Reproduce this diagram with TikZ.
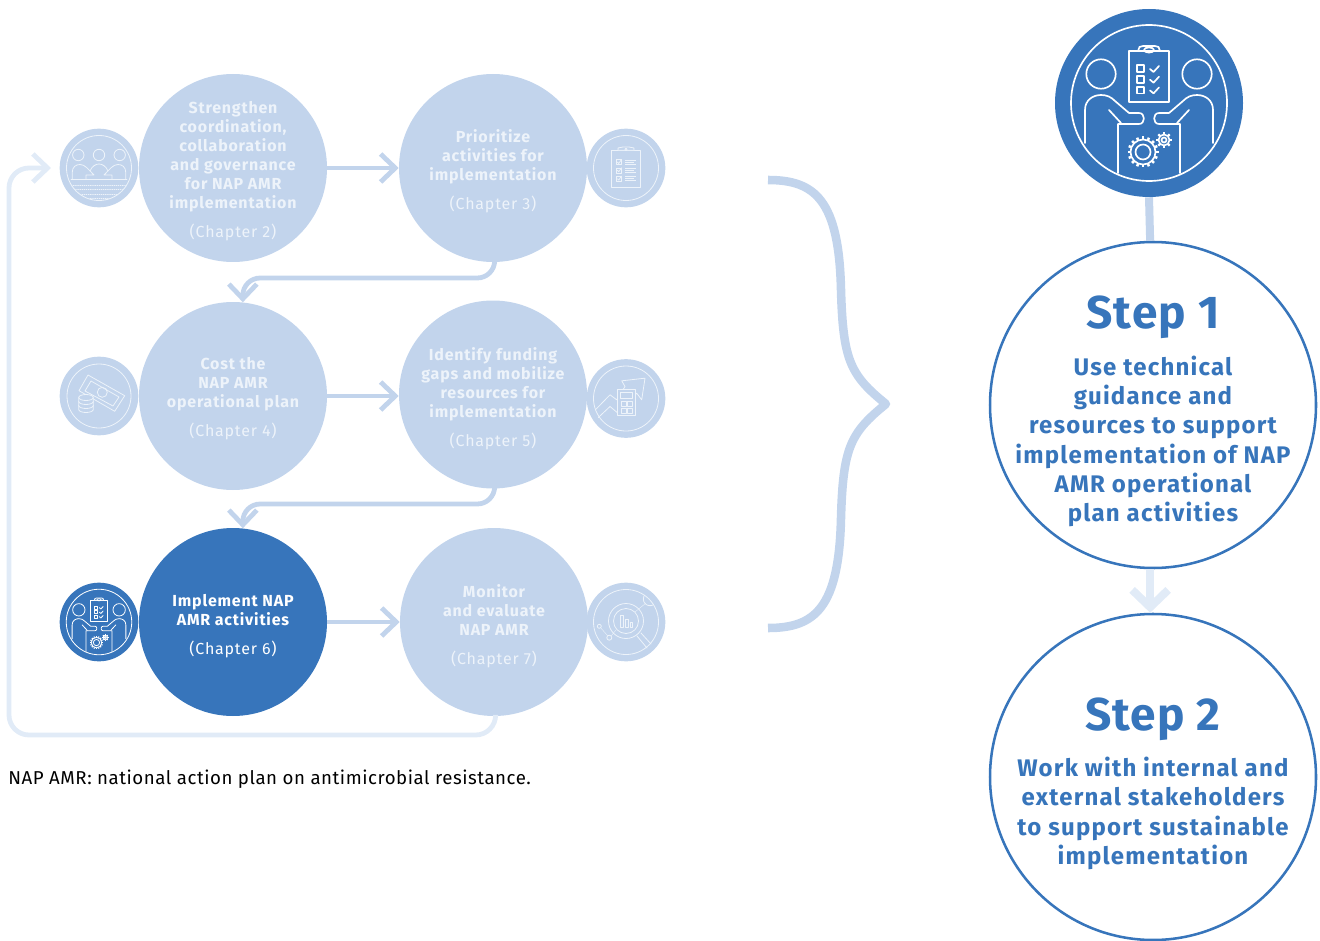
\documentclass[tikz,border=0pt]{standalone}
\usepackage{fontspec}
\setmainfont{Fira Sans}[LetterSpace=2.9]
\newfontfamily\flowfont{Fira Sans}[LetterSpace=5]
\newfontfamily\bodyfont{Fira Sans}[LetterSpace=5]
\newfontfamily\ttlfont{Fira Sans}[LetterSpace=2.5]
\usetikzlibrary{arrows.meta,calc}
\definecolor{dk}{HTML}{3775BB}
\definecolor{lt}{HTML}{C2D4EC}
\definecolor{ft}{HTML}{E1EBF7}
\definecolor{tx}{HTML}{EDF3FA}
\tikzset{
  flowc/.style={circle,fill=lt,minimum size=141pt,inner sep=0pt},
  flowd/.style={flowc,fill=dk},
  flowtx/.style={text=tx,align=center,inner sep=0pt,font=\fontsize{12}{14.25}\selectfont\flowfont\bfseries},
  iconc/.style={circle,fill=lt,minimum size=59pt,inner sep=0pt},
  icond/.style={iconc,fill=dk},
  bigc/.style={circle,draw=dk,fill=white,line width=1.9pt,minimum size=244.5pt,inner sep=0pt},
  stepttl/.style={text=dk,font=\fontsize{34.5}{40}\selectfont\ttlfont\bfseries},
  stepbody/.style={text=dk,align=center,font=\fontsize{18}{22}\selectfont\bodyfont\bfseries},
  conn/.style={line width=3.6pt,draw=lt,-{Straight Barb[length=11pt,width=21pt]}},
  connf/.style={conn,draw=ft,rounded corners=15pt},
  ic/.style={draw=tx,line width=.6pt,line cap=round,line join=round},
}
\newcommand{\chaptxt}[1]{\\[7.5pt]{\normalfont\flowfont(Chapter #1)}}
\newcommand{\meeticon}[6]{% x y scale linewidth fill stroke
\begin{scope}[shift={(#1,#2)},scale=#3]
 \begin{scope}[draw=#6,line width=#4,line cap=round,line join=round]
 \draw (0,0) circle (78);
 \foreach \s in {1,-1}{
  \begin{scope}[xscale=\s]
  \draw (48,-29) circle (14.7);
  \draw (64,40) -- (64,7) .. controls (64,-3) and (56,-8) .. (48,-8) .. controls (42,-8) and (38,-6) .. (34,-2) -- (20,10) -- (10,10) .. controls (3.5,10) and (3.5,21) .. (10,21) -- (31,21) -- (31,70);
  \draw (40,7) -- (28,20);
  \end{scope}
 }
 \draw (-20,-52) rectangle (20,-1);
 \draw[fill=#5] (-11,-52) -- (-9.5,-56) -- (-6,-57) -- (6,-57) -- (9.5,-56) -- (11,-52) -- cycle;
 \draw (0,-53) ellipse (5 and 2.6);
 \foreach \yy in {-37.7,-27,-16.3}{
  \draw (-11.7,\yy) rectangle (-4.7,\yy+6.7);
  \draw (1,\yy+3.7) -- (4.5,\yy+6.7) -- (10,\yy+.7);
 }
 \draw (-6,49) circle (12.5) (-6,49) circle (7.5);
 \foreach \a in {0,22.5,...,337.5}{\draw[line width=1.5*#4,line cap=butt] ($(-6,49)+(\a:12.5)$) -- ($(-6,49)+(\a:15.5)$);}
 \draw (15,37) circle (5.5) (15,37) circle (2.5);
 \foreach \a in {0,45,...,315}{\draw[line width=1.4*#4,line cap=butt] ($(15,37)+(\a:5.5)$) -- ($(15,37)+(\a:8)$);}
 \end{scope}
\end{scope}}
\begin{document}
\begin{tikzpicture}[x=.75pt,y=-.75pt]
\useasboundingbox (0,0) rectangle (1320,941);
% flow circles
\node[flowc] (c1) at (233,168) {};
\node[flowc] (c2) at (493,168) {};
\node[flowc] (c3) at (233,396) {};
\node[flowc] (c4) at (493,394.5) {};
\node[flowd] (c5) at (233,622) {};
\node[flowc] (c6) at (494,622) {};
\node[flowtx] (l1) at ($(c1)+(0,3)$) {Strengthen\\coordination,\\collaboration\\and governance\\for NAP AMR\\implementation\chaptxt{2}};
\node[flowtx] (l2) at ($(c2)+(0,3)$) {Prioritize\\activities for\\implementation\chaptxt{3}};
\node[flowtx] (l3) at ($(c3)+(0,3)$) {Cost the\\NAP AMR\\operational plan\chaptxt{4}};
\node[flowtx] (l4) at ($(c4)+(0,4)$) {Identify funding\\gaps and mobilize\\resources for\\implementation\chaptxt{5}};
\node[flowtx,text=white] (l5) at ($(c5)+(0,4)$) {Implement NAP\\AMR activities\chaptxt{6}};
\node[flowtx] (l6) at ($(c6)+(0,4)$) {Monitor\\and evaluate\\NAP AMR\chaptxt{7}};
% small icon circles
\node[iconc] (i1) at (99,168) {};
\node[iconc] (i2) at (626,168) {};
\node[iconc] (i3) at (99,396) {};
\node[iconc] (i4) at (626,398.5) {};
\node[icond] (i5) at (99,622) {};
\node[iconc] (i6) at (626,622) {};
% connectors
\draw[conn] (c1.east) -- (c2.west);
\draw[conn] (c3.east) -- (c3.east -| c4.west);
\draw[conn] (c5.east) -- (c6.west);
\draw[conn,rounded corners=13pt] (c2.-89) |- (300,278) -| (c3.84.5);
\draw[conn,rounded corners=13pt] (c4.-89) |- (300,504) -| (c5.84.5);
\coordinate (loopend) at (51,168);
\draw[connf] (c6.-89) |- (9,735) |- (loopend);
% people icon
\begin{scope}[shift={(i1)},ic]
 \draw (0,0) circle (32.5);
 \foreach \xx in {-20.7,0,20.7}{\draw (\xx,-13) circle (5.7);}
 \draw (-26.7,11) -- (-26.7,4) .. controls (-26.7,-1) and (-23,-3.5) .. (-19,-3.5) .. controls (-14,-3.5) and (-11,1) .. (-5,7) -- (-13,7) (-13,7) -- (-13,11);
 \draw (26.7,11) -- (26.7,4) .. controls (26.7,-1) and (23,-3.5) .. (19,-3.5) .. controls (14,-3.5) and (11,1) .. (5,7) -- (13,7) (13,7) -- (13,11);
 \draw (-9,3) .. controls (-7,-2) and (-3,-4) .. (0,-4) .. controls (3,-4) and (7,-2) .. (9,3);
 \draw (-28,11) -- (28,11);
 \begin{scope}
  \clip (0,0) circle (32);
  \foreach \yy in {17,21,26,30}{\draw[dash pattern=on .8pt off .8pt,line width=.3pt] (-30,\yy) -- (30,\yy);}
 \end{scope}
\end{scope}
% clipboard icon
\begin{scope}[shift={(i2)},ic]
 \draw (0,0) circle (32.5);
 \draw (-14.5,-17.7) rectangle (14.5,19.7);
 \draw[fill=lt] (-8,-17.7) -- (-8,-20) -- (-3,-21) -- (3,-21) -- (8,-20) -- (8,-17.7) -- cycle;
 \draw (0,-18.5) circle (1.2);
 \foreach \yy in {-8.3,0,8.3}{
  \draw (-10,\yy) rectangle (-5,\yy+5);
  \draw (-8.5,\yy+2.5) -- (-7.3,\yy+3.8) -- (-4.5,\yy-.2);
  \draw[line width=.9pt,line cap=butt] (-1,\yy+.5) -- (10,\yy+.5) (-1,\yy+2.5) -- (8,\yy+2.5) (-1,\yy+4.5) -- (10,\yy+4.5);
 }
\end{scope}
% money icon
\begin{scope}[shift={(i3)},ic]
 \draw (0,0) circle (32);
 \draw (-11,-21) -- (25.7,-.3) -- (15.7,15.3) -- (-20,-5.3) -- cycle;
 \draw (-8,-15) -- (20,1) -- (14,10) -- (-14,-5) -- cycle;
 \draw (3.3,-3.7) circle (5);
 \draw[fill=lt] (-20.3,1.5) -- (-20.3,13.5) arc[start angle=180,end angle=0,x radius=7.3,y radius=3] -- (-5.7,1.5) -- cycle;
 \draw[fill=lt] (-13,1.5) ellipse (7.3 and 3);
 \draw (-20.3,5.5) arc[start angle=180,end angle=0,x radius=7.3,y radius=3];
 \draw (-20.3,9.5) arc[start angle=180,end angle=0,x radius=7.3,y radius=3];
\end{scope}
% growth icon
\begin{scope}[shift={(i4)},ic]
 \draw (0,0) circle (32.5);
 \draw (-30,10.7) -- (-16,-3.7) -- (-9.3,1.3) -- (-1,-12) -- (-4.3,-17.7) -- (19,-20.3) -- (15.7,1.3) -- (10.7,-5.3) -- (7,-1);
 \draw (-27.7,19) -- (-16,8) -- (-8,14.7);
 \draw[fill=lt] (-8.3,-8.7) rectangle (9.7,17);
 \draw (-5.3,-6) rectangle (6.7,0);
 \foreach \xx/\yy in {-5/3,1.5/3,-5/9.5,1.5/9.5}{\draw (\xx,\yy) rectangle (\xx+5,\yy+5);}
\end{scope}
% magnifier icon
\begin{scope}[shift={(i6)},ic]
 \draw (0,0) circle (32.5);
 \draw (0,-1) circle (17.5) (0,-1) circle (12.5);
 \draw (-6,-7) rectangle (-2.7,5) (-1,-2.5) rectangle (2.3,5) (4,0) rectangle (6.7,5);
 \draw (11,14) -- (21,26) (15,11) -- (25,22);
 \draw (-26.7,4.3) circle (2) (-16.7,15.7) circle (2.5);
 \draw[line width=.3pt] (-25.3,5.8) -- (-18.3,13.8) (-15,14) -- (-10,8) (9,-10) -- (20,-19);
 \begin{scope}
  \clip (0,0) circle (32.5);
  \draw (24,-23) circle (6.7);
 \end{scope}
\end{scope}
% meeting icon, small
\meeticon{99}{622}{.42}{.6pt}{dk}{white}
% brace
\draw[lt,line width=6.4pt,line join=round] (768,180) .. controls (815,180) and (839,200) .. (841,290) .. controls (843,360) and (850,375) .. (886,404) .. controls (850,433) and (843,448) .. (841,518) .. controls (839,608) and (815,628) .. (768,628);
% right column
\node[circle,fill=dk,minimum size=141pt,inner sep=0pt] (top) at (1149,103) {};
\meeticon{1149}{103}{1}{1.25pt}{dk}{white}
\node[bigc] (s1) at (1153,405) {};
\node[bigc] (s2) at (1153,777) {};
\draw[lt,line width=6pt] (top.south) -- (s1.91.4);
\draw[ft,line width=6pt,-{Straight Barb[length=13pt,width=27pt]}] (s1.-91.4) -- (s2.91.4);
\node[stepttl] (t1) at (1153,317) {Step 1};
\node[stepbody] (b1) at (1153,441.5) {Use technical\\guidance and\\resources to support\\implementation of NAP\\AMR operational\\plan activities};
\node[stepttl] (t2) at (1153,719) {Step 2};
\node[stepbody] (b2) at (1153,813.5) {Work with internal and\\external stakeholders\\to support sustainable\\implementation};
\node[anchor=west,inner sep=0pt,font=\fontsize{14}{17}\selectfont,text=black] (note) at (8,779) {NAP AMR: national action plan on antimicrobial resistance.};
\end{tikzpicture}
\end{document}
